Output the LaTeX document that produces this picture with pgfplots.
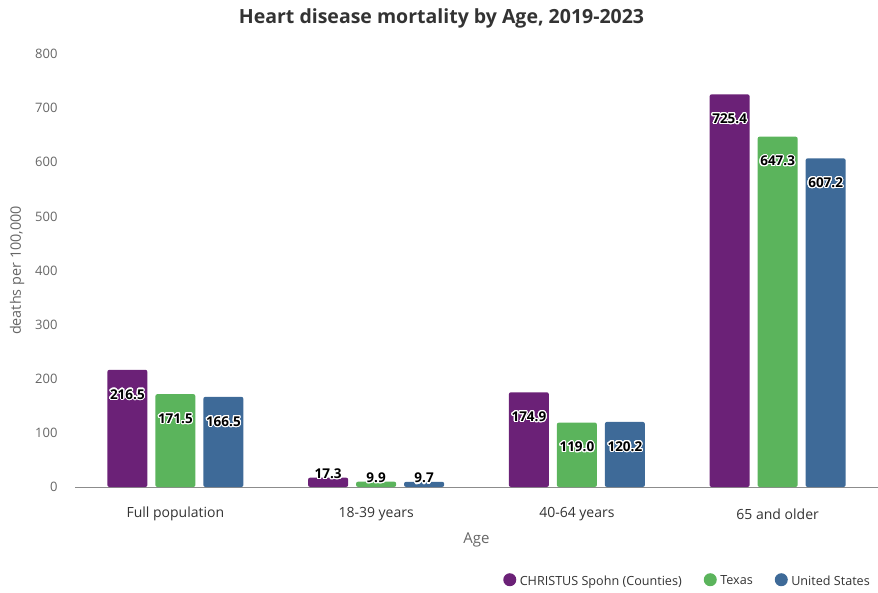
\documentclass[border=0pt]{standalone}
\usepackage{fontspec}
\setmainfont{Open Sans}
\usepackage{pgfplots}
\pgfplotsset{compat=1.18}
\usepackage[copies]{contour}
\contourlength{1.1pt}
\contournumber{20}

\definecolor{cpurple}{HTML}{6B2177}
\definecolor{cgreen}{HTML}{5BB45C}
\definecolor{cblue}{HTML}{3E6A98}
\definecolor{txtdark}{HTML}{333333}
\definecolor{txtgray}{HTML}{666666}
\definecolor{axisgray}{HTML}{8C8C8C}

\begin{document}
\begin{tikzpicture}
\path[use as bounding box] (0,0) rectangle (878pt,592pt);
\begin{axis}[
  at={(75pt,105pt)}, anchor=south west,
  scale only axis,
  width=803pt, height=433pt,
  ybar=8pt, bar width=40pt,
  xmin=-0.5, xmax=3.5,
  ymin=0, ymax=800,
  ytick={0,100,...,800},
  xtick={0,1,2,3},
  xticklabels={Full population,18-39 years,40-64 years,65 and older},
  axis x line*=bottom, axis y line*=left,
  x axis line style={axisgray, line width=0.8pt},
  y axis line style={draw=none},
  major tick length=0pt,
  xticklabel style={font=\fontsize{14}{16}\selectfont, text=txtdark, anchor=center, yshift=-27pt},
  yticklabel style={font=\fontsize{13}{15}\selectfont, text=txtgray, anchor=east, xshift=-14pt},
  /pgf/number format/assume math mode=true,
  title={Heart disease mortality by Age, 2019-2023},
  every axis title/.style={at={(axis description cs:0.5,1)}, anchor=center, yshift=36pt, xshift=-35pt,
    font=\bfseries\fontsize{19.5}{23}\selectfont, text=txtdark},
  xlabel={Age},
  every axis x label/.style={at={(axis description cs:0.5,0)}, anchor=center, yshift=-53pt,
    font=\fontsize{15}{18}\selectfont, text=txtgray},
  ylabel={deaths per 100,000},
  every axis y label/.style={at={(axis description cs:-0.0722,0.5)}, rotate=90, anchor=center,
    font=\fontsize{14.4}{17}\selectfont, text=txtgray},
  legend style={at={(axis description cs:1,0)}, anchor=east, yshift=-94pt, xshift=-3pt,
    draw=none, fill=none, font=\fontsize{12.6}{15}\selectfont, text=txtdark,
    /tikz/every even column/.append style={column sep=20pt}},
  legend columns=-1,
  legend image code/.code={\fill[#1, draw=none] (0pt,1.5pt) circle (6.5pt); \path (8pt,0pt);},
  visualization depends on={y \as \rawy},
  nodes near coords={\contour{white}{\pgfmathprintnumber[fixed,zerofill,precision=1]{\pgfplotspointmeta}}},
  every node near coord/.append style={font=\bfseries\fontsize{13.5}{15}\selectfont, text=black,
    anchor=center, yshift={ifthenelse(\rawy<50,3,-25)}},
  clip=false,
]
\addplot[fill=cpurple, draw=none, rounded corners=2pt] coordinates {(0,216.5) (1,17.3) (2,174.9) (3,725.4)};
\addplot[fill=cgreen, draw=none, rounded corners=2pt] coordinates {(0,171.5) (1,9.9) (2,119.0) (3,647.3)};
\addplot[fill=cblue, draw=none, rounded corners=2pt] coordinates {(0,166.5) (1,9.7) (2,120.2) (3,607.2)};
\legend{CHRISTUS Spohn (Counties),Texas,United States}
\end{axis}
\end{tikzpicture}
\end{document}
